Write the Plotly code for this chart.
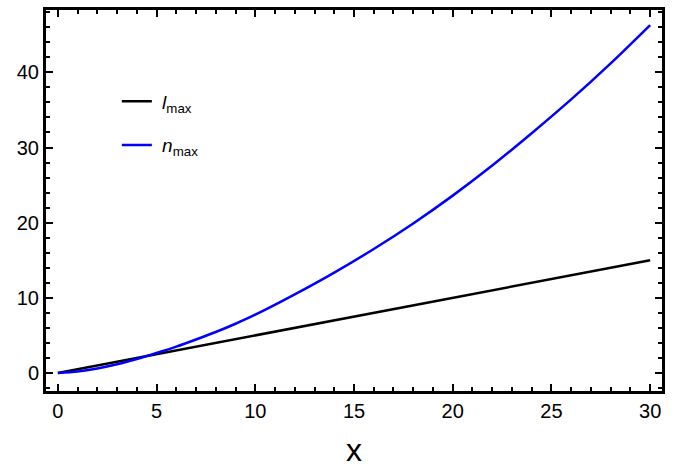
import plotly.graph_objects as go

# data
x_l = [0, 10, 20, 30]
l_max = [0, 5, 10, 15]

x_n = [0, 1, 2, 3, 4, 5, 6, 7, 8, 9, 10, 12, 14, 16, 18, 20, 22, 24, 26, 28, 30]
n_max = [0, 0.2, 0.6, 1.15, 1.85, 2.65, 3.5, 4.45, 5.45, 6.55, 7.75, 10.45, 13.35, 16.5,
         19.9, 23.6, 27.6, 31.9, 36.4, 41.2, 46.3]

x_ticks = [0, 5, 10, 15, 20, 25, 30]
y_ticks = [0, 10, 20, 30, 40]

FONT = "Liberation Sans, Arial, Helvetica, sans-serif"

fig = go.Figure()
fig.add_trace(go.Scatter(x=x_l, y=l_max, mode="lines",
                         line=dict(color="black", width=2.5),
                         name=" <i>l</i><sub>max</sub>", legendgroup="a"))
fig.add_trace(go.Scatter(x=x_n, y=n_max, mode="lines", line_shape="spline",
                         line=dict(color="#0000ff", width=2.5, smoothing=0.8),
                         name=" <i>n</i><sub>max</sub>", legendgroup="b"))

axis_common = dict(
    showgrid=False, zeroline=False, showline=True, linecolor="black",
    linewidth=3, mirror="allticks", ticks="inside", ticklen=7,
    tickwidth=2, tickcolor="black", automargin=False,
    tickfont=dict(family=FONT, size=20, color="black"),
)

fig.update_xaxes(range=[-0.6, 30.6], tickvals=x_ticks,
                 minor=dict(dtick=1, ticks="inside", ticklen=4, tickwidth=2,
                            tickcolor="black"),
                 title=dict(text="x", font=dict(family=FONT, size=32, color="black"),
                            standoff=26),
                 **axis_common)
fig.update_yaxes(range=[-2.4, 48.3], tickvals=y_ticks,
                 minor=dict(dtick=2, ticks="inside", ticklen=4, tickwidth=2,
                            tickcolor="black"),
                 **axis_common)

fig.update_layout(
    width=686, height=468,
    margin=dict(l=46, r=24, t=10, b=77),
    paper_bgcolor="white", plot_bgcolor="white",
    showlegend=True,
    legend=dict(x=0.115, y=0.81, xanchor="left", yanchor="top",
                font=dict(family=FONT, size=19, color="black"),
                bgcolor="rgba(0,0,0,0)", tracegroupgap=16,
                traceorder="grouped"),
)

fig.write_html("out.html")
